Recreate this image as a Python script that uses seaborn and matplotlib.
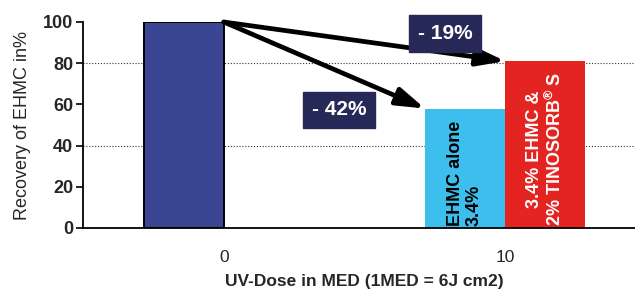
import matplotlib
matplotlib.use("Agg")
import matplotlib.pyplot as plt
import seaborn as sns
import pandas as pd

# ---- data ----
doses = ["0", "10"]
bar_dose = ["0", "10", "10"]
bar_series = ["slot1", "slot1", "slot2"]
recovery = [100, 58, 81]
bar_colors = ["#3A4594", "#3DBFEE", "#E42421"]
bar_texts = ["", "EHMC alone\n3.4%", "3.4% EHMC &\n2% TINOSORB$^\\mathbf{®}$ S"]
bar_text_colors = ["black", "black", "white"]
bar_text_align = ["left", "left", "center"]
change_labels = ["- 42%", "- 19%"]
label_pos = [(0.41, 57.3), (0.787, 94.5)]
grid_levels = [40, 80]
yticks = [0, 20, 40, 60, 80, 100]
ylabel = "Recovery of EHMC in%"
xlabel = "UV-Dose in MED (1MED = 6J cm2)"

sns.set_style("white")
plt.rcParams["font.family"] = ["Liberation Sans", "DejaVu Sans"]
plt.rcParams["mathtext.fontset"] = "custom"
plt.rcParams["mathtext.rm"] = "Liberation Sans"
plt.rcParams["mathtext.bf"] = "Liberation Sans:bold"

df = pd.DataFrame({"dose": bar_dose, "series": bar_series, "value": recovery})

fig = plt.figure(figsize=(6.35, 2.91), dpi=100)
ax = fig.add_axes([83 / 635, 63 / 291, 563 / 635, 206 / 291])

sns.barplot(data=df, x="dose", y="value", hue="series", order=doses,
            hue_order=["slot1", "slot2"], width=0.57, dodge=True,
            palette=["#3A4594", "#E42421"], legend=False, ax=ax, zorder=2)

bars = list(ax.containers[0]) + list(ax.containers[1])
bars = [b for b in bars if b.get_height() > 0]
bars.sort(key=lambda b: (b.get_x()))
for b, c in zip(bars, bar_colors):
    b.set_facecolor(c)
    b.set_edgecolor("none")
bars[0].set_edgecolor("black")
bars[0].set_linewidth(1.4)

for b, t, tc, al in zip(bars, bar_texts, bar_text_colors, bar_text_align):
    if t:
        ax.text(b.get_x() + b.get_width() / 2, 1.0, t, rotation=90,
                ha="center", va="bottom", multialignment=al,
                color=tc, fontsize=13, fontweight="bold", zorder=4,
                linespacing=1.15)

src = bars[0]
sx, sy = src.get_x() + src.get_width(), src.get_height()
for tgt in bars[1:]:
    ax.annotate("", xy=(tgt.get_x(), tgt.get_height()), xytext=(sx, sy),
                arrowprops=dict(arrowstyle="-|>,head_length=0.85,head_width=0.27",
                                lw=3.4, color="black", shrinkA=0, shrinkB=0,
                                mutation_scale=20),
                zorder=5)

for lab, (lx, ly) in zip(change_labels, label_pos):
    ax.text(lx, ly, lab, ha="center", va="center", color="white",
            fontsize=15, fontweight="bold", zorder=6,
            bbox=dict(boxstyle="square,pad=0.42", fc="#262858", ec="#262858"))

for g in grid_levels:
    ax.axhline(g, color="#333333", lw=0.8, ls=(0, (1, 1.6)), zorder=1)

ax.set_ylim(0, 100)
ax.set_xlim(-0.5, 1.5)
ax.set_yticks(yticks)
ax.set_yticklabels([str(v) for v in yticks], fontsize=13, fontweight="bold")
ax.set_xticks([0, 1])
ax.set_xticklabels(doses, fontsize=12.5)
ax.set_xticks([-0.5, 0.5], minor=True)
ax.tick_params(axis="x", which="major", length=0, pad=16)
ax.tick_params(axis="x", which="minor", length=5, width=1.2, direction="out", color="black")
ax.tick_params(axis="y", length=5, width=1.2, direction="out", color="black", pad=2, left=True)

for s in ["top", "right"]:
    ax.spines[s].set_visible(False)
for s in ["left", "bottom"]:
    ax.spines[s].set_color("black")
    ax.spines[s].set_linewidth(1.3)

ax.set_ylabel(ylabel, fontsize=13, labelpad=9)
ax.set_xlabel(xlabel, fontsize=12.5, fontweight="bold", labelpad=6)

fig.savefig("out.png", dpi=100)
